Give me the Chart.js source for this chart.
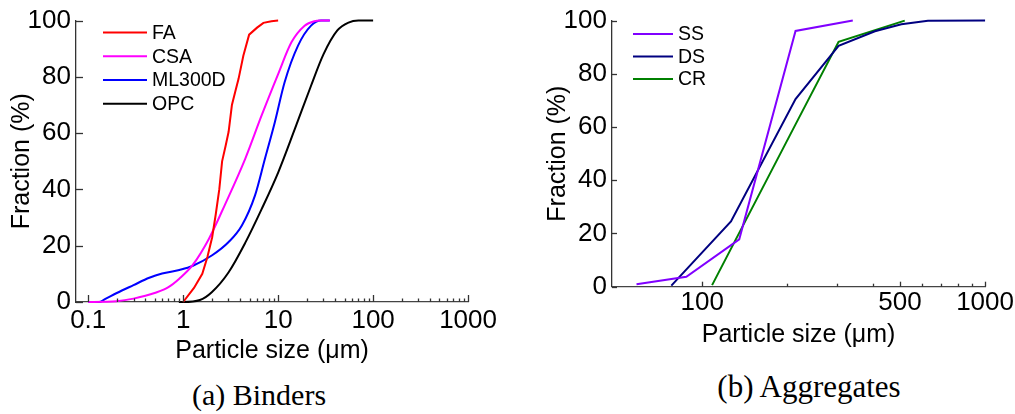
<!DOCTYPE html>
<html lang="en">
<head>
    <meta charset="UTF-8">
    <title>Particle size distribution of binders and aggregates</title>
    <style>
        body {
            margin: 0;
            background: #fff;
            width: 1015px;
            height: 414px;
            position: relative;
            overflow: hidden;
        }
        canvas {
            position: absolute;
            top: 0;
        }
        #bindersChart { left: 0; }
        #aggregatesChart { left: 520px; }
        .caption {
            position: absolute;
            width: 300px;
            text-align: center;
            font-family: "Liberation Serif", "Times New Roman", serif;
            font-size: 30px;
            line-height: 30px;
            color: #000;
        }
    </style>
    <script src="https://cdn.jsdelivr.net/npm/chart.js"></script>
</head>
<body>
    <canvas id="bindersChart" width="500" height="366"></canvas>
    <canvas id="aggregatesChart" width="495" height="350"></canvas>
    <div class="caption" style="left:109px; top:380px;">(a) Binders</div>
    <div class="caption" style="left:659px; top:372px; font-size:31px;">(b) Aggregates</div>

    <script>
        // (a) Binders - cumulative passing (%) vs particle size (um)
        const faX  = [1, 1.3, 1.59, 1.8, 2.02, 2.2, 2.4, 2.57, 2.8, 3.01, 3.26, 3.55, 3.83, 4.3, 4.95, 6, 7, 8.5, 10];
        const faY  = [0, 5, 10, 16, 23, 31, 40, 50, 55.5, 60.5, 70, 75, 79.3, 87.5, 95, 97.5, 99.2, 99.8, 100];
        const csaX = [0.1, 0.15, 0.2, 0.3, 0.4, 0.5, 0.7, 0.91, 1.25, 1.87, 2.78, 4.5, 6.7, 10, 13.8, 19, 24, 28, 35];
        const csaY = [0, 0.1, 0.3, 1.2, 2.2, 3.2, 5.3, 8.3, 13, 22.5, 34.9, 50.9, 66.3, 81, 92.3, 98.2, 99.8, 100, 100];
        const mlX  = [0.1, 0.13, 0.15, 0.2, 0.3, 0.44, 0.6, 0.91, 1.25, 2.02, 3.01, 4.15, 5.71, 7.26, 9.23, 11.7, 16.2, 22.2, 28.3, 35];
        const mlY  = [0, 0, 1, 3.2, 6.0, 8.6, 10.1, 11.4, 12.8, 16.6, 21.3, 27.2, 37.9, 50.9, 63.9, 78.1, 91.1, 98.2, 100, 100];
        const opcX = [0.9, 1, 1.5, 2, 3, 4.5, 6.7, 10, 15, 22, 30, 42, 55, 70, 100];
        const opcY = [0, 0, 0.7, 3.5, 10.5, 21, 33, 46, 61.5, 76.5, 88, 96.5, 99.3, 100, 100];

        // (b) Aggregates
        const ssX = [58.6, 87.9, 135.2, 213.8, 340.7];
        const ssY = [0.9, 3.7, 17.8, 96.1, 100];
        const dsX = [77.8, 126.4, 213.8, 303.5, 408, 506, 628, 1000];
        const dsY = [0.4, 24.5, 70.5, 90.5, 96, 98.6, 99.9, 100];
        const crX = [108.4, 213.8, 303.5, 520];
        const crY = [0.6, 61, 92, 100];

        // axis ticks
        const binderMajorTicks = [0.1, 1, 10, 100, 1000];
        const binderTickLabels = ['0.1', '1', '10', '100', '1000'];
        const aggMajorTicks = [100, 500, 1000];
        const aggTickLabels = ['100', '500', '1000'];
        const aggMinorTicks = [200, 300, 400, 600, 700, 800, 900];
        const fractionTicks = [0, 20, 40, 60, 80, 100];

        // log minor ticks 2..9 in every decade
        const binderTicks = [];
        binderMajorTicks.slice(0, -1).forEach(d => {
            for (let m = 1; m <= 9; m++) binderTicks.push(d * m);
        });
        binderTicks.push(1000);
        const aggTicks = aggMajorTicks.concat(aggMinorTicks).sort((a, b) => a - b);

        const toPoints = (xs, ys) => xs.map((x, i) => ({ x: x, y: ys[i] }));

        const fontFamily = '"Liberation Sans", Arial, sans-serif';
        Chart.defaults.font.family = fontFamily;
        Chart.defaults.color = '#000';

        // draws ticks pointing into the plot, long for labelled ticks
        const inwardTicks = {
            id: 'inwardTicks',
            afterDraw(chart, args, opts) {
                const { ctx, chartArea, scales } = chart;
                ctx.save();
                ctx.strokeStyle = '#333';
                ctx.lineWidth = 1.3;
                scales.x.ticks.forEach(t => {
                    const px = Math.round(scales.x.getPixelForValue(t.value)) + 0.5;
                    const len = t.label ? opts.major : opts.minor;
                    ctx.beginPath();
                    ctx.moveTo(px, chartArea.bottom);
                    ctx.lineTo(px, chartArea.bottom - len);
                    ctx.stroke();
                });
                scales.y.ticks.forEach(t => {
                    const py = Math.round(scales.y.getPixelForValue(t.value)) + 0.5;
                    const len = t.label ? opts.major : opts.minor;
                    ctx.beginPath();
                    ctx.moveTo(chartArea.left, py);
                    ctx.lineTo(chartArea.left + len, py);
                    ctx.stroke();
                });
                ctx.restore();
            }
        };

        // legend drawn inside the plot, top left
        const insideLegend = {
            id: 'insideLegend',
            afterDatasetsDraw(chart, args, opts) {
                const ctx = chart.ctx;
                const { left, top } = chart.chartArea;
                ctx.save();
                ctx.font = '19.5px ' + fontFamily;
                ctx.textBaseline = 'middle';
                chart.data.datasets.forEach((ds, i) => {
                    const x = left + opts.x0;
                    const y = top + opts.y0 + i * opts.step;
                    ctx.strokeStyle = ds.borderColor;
                    ctx.lineWidth = 2;
                    ctx.beginPath();
                    ctx.moveTo(x, y);
                    ctx.lineTo(x + opts.len, y);
                    ctx.stroke();
                    ctx.fillStyle = '#000';
                    ctx.fillText(ds.label, x + opts.len + 5, y + 1);
                });
                ctx.restore();
            }
        };

        function lineSet(label, xs, ys, color, tension) {
            return {
                label: label,
                data: toPoints(xs, ys),
                borderColor: color,
                backgroundColor: color,
                borderWidth: 2,
                showLine: true,
                pointRadius: 0,
                clip: false,
                tension: tension,
                cubicInterpolationMode: tension ? 'monotone' : 'default'
            };
        }

        function yAxis(width, titlePad) {
            return {
                min: 0,
                max: 100,
                afterFit: s => { s.width = width; },
                border: { display: true, color: '#333', width: 1.3 },
                grid: { display: false, drawTicks: false },
                ticks: {
                    stepSize: 10,
                    padding: 5,
                    font: { size: 26 },
                    callback: v => fractionTicks.includes(v) ? String(v) : ''
                },
                title: {
                    display: true,
                    text: 'Fraction (%)',
                    font: { size: 25 },
                    padding: { top: titlePad }
                }
            };
        }

        // (a) Binders
        new Chart(document.getElementById('bindersChart'), {
            type: 'scatter',
            data: {
                datasets: [
                    lineSet('FA', faX, faY, '#ff0000', 0),
                    lineSet('CSA', csaX, csaY, '#ff00ff', 0.4),
                    lineSet('ML300D', mlX, mlY, '#0000ff', 0.4),
                    lineSet('OPC', opcX, opcY, '#000000', 0.4)
                ]
            },
            options: {
                responsive: false,
                animation: false,
                layout: { padding: { left: 0, right: 28, top: 20, bottom: 0 } },
                plugins: {
                    legend: { display: false },
                    tooltip: { enabled: false },
                    inwardTicks: { major: 7, minor: 3.5 },
                    insideLegend: { x0: 27, y0: 12, step: 23.7, len: 44 }
                },
                scales: {
                    x: {
                        type: 'logarithmic',
                        min: 0.0744,
                        max: 1000,
                        afterFit: s => { s.height = 64; },
                        afterBuildTicks: s => { s.ticks = binderTicks.map(v => ({ value: v })); },
                        border: { display: true, color: '#444', width: 1.3 },
                        grid: { display: false, drawTicks: false },
                        ticks: {
                            autoSkip: false,
                            maxRotation: 0,
                            padding: 3,
                            font: { size: 26 },
                            callback: v => {
                                const i = binderMajorTicks.findIndex(m => Math.abs(m - v) < m * 1e-6);
                                return i >= 0 ? binderTickLabels[i] : '';
                            }
                        },
                        title: {
                            display: true,
                            text: 'Particle size (\u03bcm)',
                            font: { size: 25 },
                            padding: { bottom: 0 }
                        }
                    },
                    y: yAxis(76, 7)
                }
            },
            plugins: [inwardTicks, insideLegend]
        });

        // (b) Aggregates
        new Chart(document.getElementById('aggregatesChart'), {
            type: 'scatter',
            data: {
                datasets: [
                    lineSet('SS', ssX, ssY, '#8000ff', 0),
                    lineSet('DS', dsX, dsY, '#000080', 0),
                    lineSet('CR', crX, crY, '#008000', 0)
                ]
            },
            options: {
                responsive: false,
                animation: false,
                layout: { padding: { left: 0, right: 27.5, top: 18.7, bottom: 0 } },
                plugins: {
                    legend: { display: false },
                    tooltip: { enabled: false },
                    inwardTicks: { major: 5, minor: 3 },
                    insideLegend: { x0: 21, y0: 13.3, step: 22.5, len: 40 }
                },
                scales: {
                    x: {
                        type: 'logarithmic',
                        min: 48,
                        max: 1000,
                        afterFit: s => { s.height = 63.3; },
                        afterBuildTicks: s => { s.ticks = aggTicks.map(v => ({ value: v })); },
                        border: { display: true, color: '#444', width: 1.3 },
                        grid: { display: false, drawTicks: false },
                        ticks: {
                            autoSkip: false,
                            maxRotation: 0,
                            padding: 1,
                            font: { size: 26 },
                            callback: v => {
                                const i = aggMajorTicks.indexOf(v);
                                return i >= 0 ? aggTickLabels[i] : '';
                            }
                        },
                        title: {
                            display: true,
                            text: 'Particle size (\u03bcm)',
                            font: { size: 25 },
                            padding: { bottom: 0 }
                        }
                    },
                    y: yAxis(92, 23)
                }
            },
            plugins: [inwardTicks, insideLegend]
        });
    </script>
</body>
</html>
